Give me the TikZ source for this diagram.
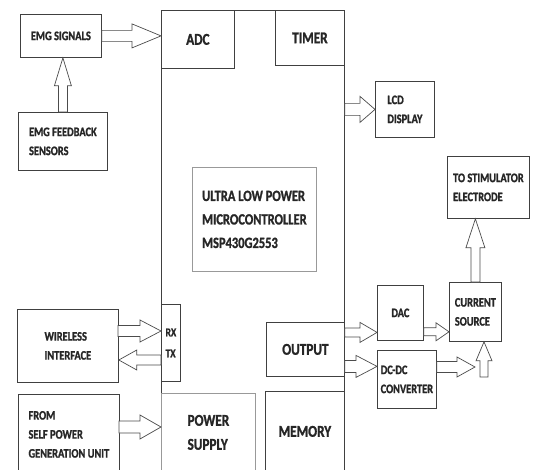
\documentclass[tikz,border=0pt]{standalone}
\usepackage{fontspec}
\newfontfamily\lblfont{Carlito}[FakeStretch=0.8, BoldFeatures={FakeBold=1.3}]
\usetikzlibrary{calc}

\tikzset{
  box/.style={draw=black!75, line width=0.8pt, anchor=north west, inner sep=0pt,
    align=left, text=black!85},
  paleblk/.style={draw=black!40},
  smalltxt/.style={font=\lblfont\bfseries\fontsize{13}{19}\selectfont},
  bigtxt/.style={font=\lblfont\bfseries\fontsize{16.5}{24}\selectfont},
  barrow/.style={draw=black!70, line width=0.7pt, fill=white, line join=miter}
}

% hollow block arrow: from, to, head length, body half width, head half width
\newcommand{\blockarrow}[5]{%
  \draw[barrow] let \p1=(#1), \p2=(#2),
    \n1={atan2(\y2-\y1,\x2-\x1)}, \n2={veclen(\x2-\x1,\y2-\y1)} in
    [shift={(\p1)}, rotate=\n1]
    (0,-#4) -- (\n2-#3,-#4) -- (\n2-#3,-#5) -- (\n2,0) -- (\n2-#3,#5)
    -- (\n2-#3,#4) -- (0,#4) -- cycle;}

\begin{document}
\begin{tikzpicture}[x=1pt,y=-1pt]
\useasboundingbox (0,0) rectangle (537,470);
\clip (0,0) rectangle (537,470);

% microcontroller
\node[box, minimum width=183, minimum height=480] (mcu) at (161,10) {};
\node[box, bigtxt, minimum width=73, minimum height=58] (adc) at (161,10) {ADC};
\node[box, bigtxt, minimum width=69, minimum height=55] (timer) at (275,10) {TIMER};
\node[box, paleblk, font=\lblfont\bfseries\fontsize{15.6}{23.5}\selectfont,
  minimum width=124, minimum height=104] (core) at (192,167)
  {ULTRA LOW POWER\\MICROCONTROLLER\\MSP430G2553};
\node[box, font=\lblfont\bfseries\fontsize{12}{21}\selectfont,
  minimum width=19, minimum height=77] (rxtx) at (161,304) {RX\\TX};
\node[box, bigtxt, minimum width=78, minimum height=54] (output) at (266,322) {OUTPUT};
\node[box, bigtxt, minimum width=79, minimum height=80] (memory) at (265,391) {MEMORY};
\node[box, paleblk, bigtxt, minimum width=94, minimum height=78] (power) at (161,393) {POWER\\SUPPLY};

% left side
\node[box, smalltxt, minimum width=81, minimum height=43] (emgsig) at (20,14) {EMG SIGNALS};
\node[box, smalltxt, minimum width=89, minimum height=58] (emgfb) at (18,112) {EMG FEEDBACK\\SENSORS};
\node[box, smalltxt, minimum width=101, minimum height=73] (wireless) at (17,309) {WIRELESS\\INTERFACE};
\node[box, smalltxt, minimum width=101, minimum height=80] (selfpow) at (18,394)
  {FROM\\SELF POWER\\GENERATION UNIT};

% right side
\node[box, smalltxt, minimum width=59, minimum height=56] (lcd) at (375,81) {LCD\\DISPLAY};
\node[box, smalltxt, minimum width=82, minimum height=62] (stim) at (447,156) {TO STIMULATOR\\ELECTRODE};
\node[box, smalltxt, minimum width=52, minimum height=59] (cursrc) at (449,282) {CURRENT\\SOURCE};
\node[box, smalltxt, minimum width=46, minimum height=55] (dac) at (377,285) {DAC};
\node[box, smalltxt, minimum width=59, minimum height=58] (dcdc) at (377,350) {DC-DC\\CONVERTER};

% arrow end points
\coordinate (outa) at ($(output.east)+(0,-17)$);
\coordinate (outb) at ($(output.east)+(0,17)$);
\coordinate (daco) at ($(dac.south east)+(0,-9)$);
\coordinate (dcdco) at ($(dcdc.north east)+(0,17)$);
\coordinate (cin) at (475,367);
\coordinate (cbot) at (484,377);
\coordinate (rxin) at (118,331);
\coordinate (txout) at (161,360);
\coordinate (pwin) at (119,427);

% arrows
\blockarrow{emgsig.east}{emgsig.east -| adc.west}{29}{5.5}{12}
\blockarrow{emgfb.north}{emgfb.north |- emgsig.south}{28}{4.5}{8.5}
\blockarrow{mcu.east |- lcd.west}{lcd.west}{15}{6}{13}
\blockarrow{cursrc.north}{cursrc.north |- stim.south}{29}{4.5}{9.5}
\blockarrow{outa}{outa -| dac.west}{17}{4.5}{10}
\blockarrow{outb}{outb -| dcdc.west}{21}{6}{11}
\blockarrow{daco}{daco -| cursrc.west}{13}{4}{9}
\blockarrow{dcdco}{cin}{18}{5.5}{10}
\blockarrow{cbot}{cbot |- cursrc.south}{19}{4}{8}
\blockarrow{rxin}{rxin -| rxtx.west}{21}{5.5}{11}
\blockarrow{txout}{txout -| wireless.east}{18}{5}{10}
\blockarrow{pwin}{pwin -| power.west}{21}{6}{12}
\end{tikzpicture}
\end{document}
